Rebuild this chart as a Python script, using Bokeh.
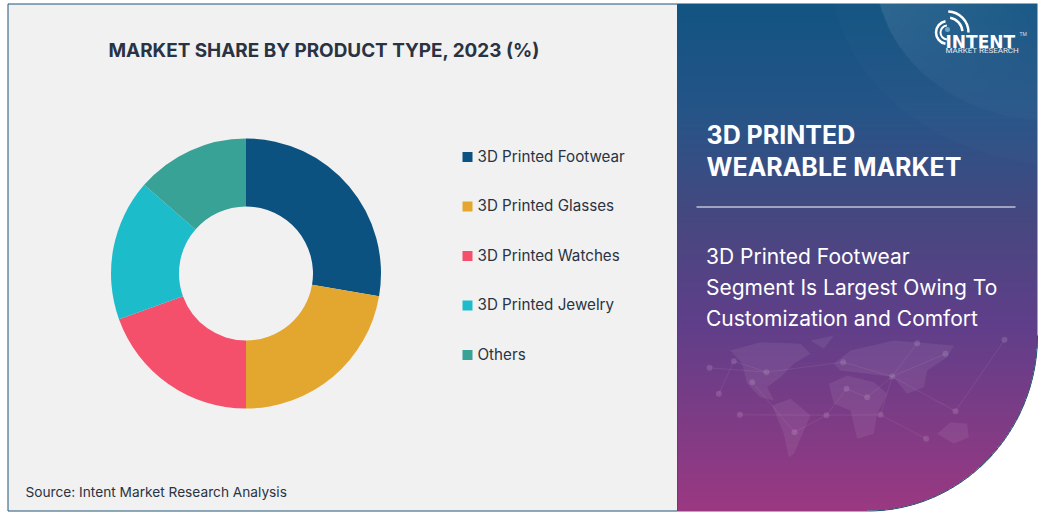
import numpy as np
from bokeh.plotting import figure
from bokeh.embed import file_html
from bokeh.resources import INLINE
from bokeh.core.properties import value
from bokeh.models import Range1d

categories = ["3D Printed Footwear", "3D Printed Glasses", "3D Printed Watches", "3D Printed Jewelry", "Others"]
shares = [27.7, 22.3, 19.5, 16.9, 13.6]
colors = ["#0b5280", "#e3a72f", "#f4506b", "#1cbccb", "#38a297"]
title = "MARKET SHARE BY PRODUCT TYPE, 2023 (%)"
source_note = "Source: Intent Market Research Analysis"
panel_title = ["3D PRINTED", "WEARABLE MARKET"]
panel_text = ["3D Printed Footwear", "Segment Is Largest Owing To", "Customization and Comfort"]

W, H = 1043, 513
p = figure(width=W, height=H, output_backend="svg", toolbar_location=None,
           x_range=Range1d(0, W), y_range=Range1d(H, 0), min_border=0)
p.axis.visible = False
p.grid.visible = False
p.outline_line_color = None
p.background_fill_color = "white"
p.border_fill_color = "white"

BORDER = "#1d5577"
p.quad(left=[7.5], right=[677], top=[3.5], bottom=[510.5], fill_color="#f1f1f1", line_color=BORDER, line_width=1)

# panel gradient
x0, x1, y0, y1 = 677, 1037, 3, 511
nx, ny = x1 - x0, y1 - y0
xs, ys = np.meshgrid(np.arange(nx) + x0 + .5, np.arange(ny) + y0 + .5)
stops_y = [3, 110, 220, 320, 511]
stops_c = np.array([[18, 84, 130], [38, 85, 136], [71, 72, 128], [95, 63, 138], [155, 57, 130]], float)
rgb = np.stack([np.interp(ys, stops_y, stops_c[:, k]) for k in range(3)], axis=-1)
# lighter swoosh at the top right
e1 = ((xs - 1050) / 175) ** 2 + ((ys + 30) / 150) ** 2
light = np.where(e1 < 1, 0.03 + 0.09 * np.clip((1050 - xs) / 175, 0, 1) * np.clip((110 - ys) / 110, 0, 1), 0)
rgb = rgb + (255 - rgb) * light[..., None]
e2 = ((xs - 1070) / 240) ** 2 + ((ys + 30) / 195) ** 2
light2 = np.where((e2 < 1) & (e1 >= 1), 0.012, 0)
rgb = rgb + (255 - rgb) * light2[..., None]
cx, cy, rx, ry = 867, 335, 170, 175.5
outside = (xs > cx) & (ys > cy) & (((xs - cx) / rx) ** 2 + ((ys - cy) / ry) ** 2 > 1)
rows = np.zeros((ny, nx, 4), dtype=np.uint8)
rows[..., 0:3] = rgb.astype(np.uint8)
rows[..., 3] = np.where(outside, 0, 255)
img = rows.view(np.uint32).reshape(ny, nx).copy()
p.image_rgba(image=[img], x=[x0], y=[y0], dw=[nx], dh=[ny])
th = np.linspace(0, np.pi / 2, 60)
p.line(cx + rx * np.cos(th), cy + ry * np.sin(th), line_color=BORDER, line_width=1)

# world map sketch (positions in reference pixels)
def mp(pts):
    return [660 + a / 3 for a, b in pts], [320 + b / 3 for a, b in pts]
lands = [
    [(210, 90), (300, 65), (420, 70), (450, 100), (400, 130), (360, 170), (320, 200), (340, 240), (300, 230), (260, 190), (245, 130)],
    [(450, 60), (520, 45), (490, 85)],
    [(335, 255), (390, 235), (450, 285), (430, 330), (400, 400), (385, 410), (370, 340)],
    [(505, 190), (560, 165), (640, 185), (680, 220), (650, 280), (640, 340), (590, 355), (570, 270), (520, 250)],
    [(520, 130), (570, 90), (700, 60), (880, 75), (860, 110), (800, 150), (790, 200), (740, 220), (700, 170), (620, 160), (540, 150)],
    [(800, 235), (900, 265), (845, 250)],
    [(830, 340), (870, 305), (920, 310), (925, 350), (880, 370)],
]
land_xy = [mp(l) for l in lands]
p.patches([l[0] for l in land_xy], [l[1] for l in land_xy], fill_color="white", fill_alpha=0.07, line_color=None)
nodes = [(147, 142), (175, 220), (238, 283), (220, 122), (318, 155), (275, 185), (548, 125), (695, 168), (558, 205), (498, 284),
         (402, 335), (660, 283), (885, 272), (855, 100), (770, 68), (1032, 58), (797, 355), (620, 230)]
nx_, ny_ = mp(nodes)
links = [(0, 4), (1, 3), (2, 9), (4, 6), (6, 7), (7, 13), (7, 14), (8, 9), (9, 10), (9, 11), (11, 7), (7, 12), (12, 15), (11, 16), (3, 4), (5, 10), (8, 17), (17, 7)]
p.segment([nx_[a] for a, b in links], [ny_[a] for a, b in links], [nx_[b] for a, b in links], [ny_[b] for a, b in links],
          line_color="white", line_alpha=0.07, line_width=1)
p.scatter(nx_, ny_, size=6, fill_color="white", fill_alpha=0.13, line_color=None)

# donut from the data
a = np.cumsum([0] + shares) / sum(shares) * 2 * np.pi
for i, c in enumerate(colors):
    p.annular_wedge(x=[245.5], y=[273], inner_radius=67, outer_radius=135,
                    start_angle=[np.pi / 2 - a[i + 1]], end_angle=[np.pi / 2 - a[i]],
                    direction="anticlock", fill_color=c, line_color=None)

font = value("Inter")
p.text(x=[108], y=[49.5], text=[title], text_font=font, text_font_size="18.9px", text_font_style="bold",
       text_color="#2a3342", text_baseline="middle")
for i, (name, c) in enumerate(zip(categories, colors)):
    y = 155.5 + i * 49.5
    p.rect(x=[467], y=[y + 1], width=10, height=10, fill_color=c, line_color=None)
    p.text(x=[477], y=[y], text=[name], text_font=font, text_font_size="15.2px", text_color="#2a3342", text_baseline="middle")
p.text(x=[25], y=[491], text=[source_note], text_font=font, text_font_size="13.7px", text_color="#2a3342", text_baseline="middle")
for i, s in enumerate(panel_title):
    p.text(x=[706], y=[134 + i * 32], text=[s], text_font=font, text_font_size="25px", text_font_style="bold",
           text_color="white", text_baseline="middle")
p.segment(x0=[696], x1=[1015], y0=[206.5], y1=[206.5], line_color="white", line_width=1)
for i, s in enumerate(panel_text):
    p.text(x=[705.5], y=[256 + i * 31], text=[s], text_font=font, text_font_size="21px",
           text_color="white", text_baseline="middle")

# logo
for r, w, sa, ea in [(7, 2, 95, 265), (11.5, 2.5, 100, 260), (15, 2.5, 5, 80), (21, 2.5, 0, 88)]:
    p.arc(x=[947], y=[32], radius=[r], start_angle=[np.radians(sa)], end_angle=[np.radians(ea)],
          line_color="white", line_width=w, direction="anticlock")
p.scatter([947], [29], size=5, fill_color="#6fa8c8", line_color=None)
p.text(x=[945], y=[41], text=["INTENT"], text_font=value("DejaVu Sans"), text_font_size="17px", text_font_style="bold",
       text_color="white", text_baseline="middle")
p.text(x=[945], y=[49.5], text=["MARKET RESEARCH"], text_font=value("Roboto"), text_font_size="8px", text_color="white",
       text_alpha=0.9, text_baseline="middle")
p.text(x=[1019], y=[33], text=["TM"], text_font=value("Roboto"), text_font_size="5px", text_color="white", text_alpha=0.8,
       text_baseline="middle")

open("out.html", "w").write(file_html(p, INLINE))
